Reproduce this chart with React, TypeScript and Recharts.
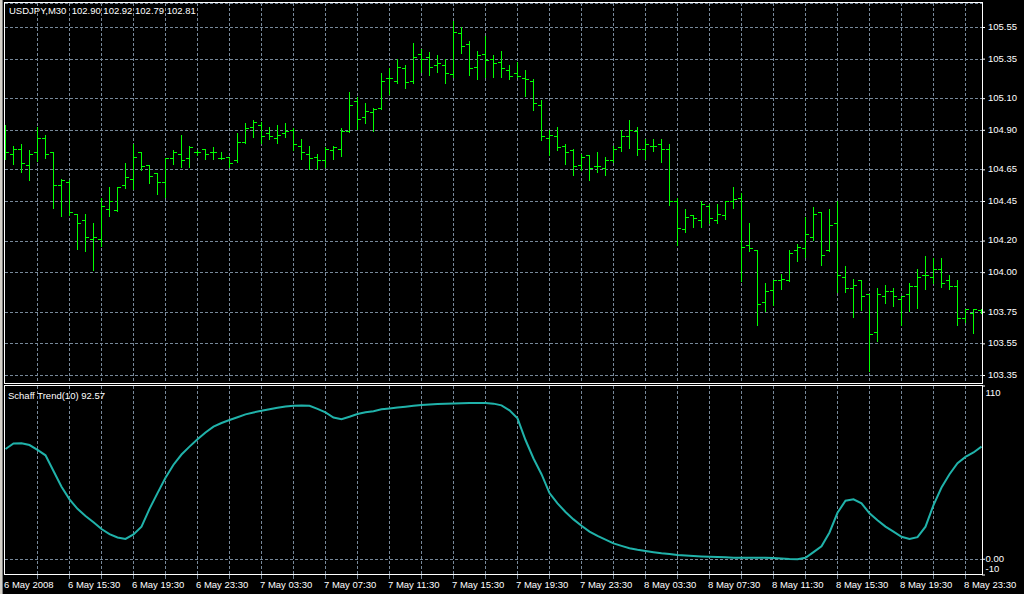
import React from 'react';
import {
  ComposedChart,
  Bar,
  Line,
  XAxis,
  YAxis,
  CartesianGrid,
} from 'recharts';

// USDJPY M30, 6 May 11:30 .. 9 May 00:30 (one value per bar)
const opens = [
  104.84, 104.75, 104.78, 104.68, 104.76, 104.85, 104.76, 104.55, 104.57, 104.37,
  104.33, 104.21, 104.21, 104.40, 104.39, 104.55, 104.59, 104.76, 104.68, 104.63,
  104.57, 104.72, 104.75, 104.72, 104.76, 104.78, 104.76, 104.72, 104.73, 104.71,
  104.82, 104.92, 104.93, 104.88, 104.85, 104.88, 104.90, 104.80, 104.75, 104.73,
  104.71, 104.77, 104.78, 104.89, 105.08, 104.98, 105.01, 105.04, 105.23, 105.21,
  105.29, 105.21, 105.38, 105.36, 105.31, 105.31, 105.25, 105.51, 105.44, 105.30,
  105.38, 105.35, 105.33, 105.28, 105.26, 105.23, 105.21, 105.06, 104.85, 104.86,
  104.80, 104.77, 104.68, 104.74, 104.67, 104.66, 104.71, 104.79, 104.86, 104.89,
  104.78, 104.80, 104.81, 104.78, 104.45, 104.27, 104.36, 104.33, 104.42, 104.33,
  104.36, 104.45, 104.47, 104.17, 104.14, 103.81, 103.89, 103.95, 103.95, 104.14,
  104.15, 104.22, 104.38, 104.14, 104.31, 103.97, 103.90, 103.95, 103.86, 103.62,
  103.85, 103.88, 103.83, 103.86, 103.91, 103.98, 103.97, 104.02, 103.95, 103.91,
  103.71, 103.74, 103.76,
];

const highs = [
  104.93, 104.80, 104.81, 104.77, 104.92, 104.87, 104.76, 104.59, 104.58, 104.37,
  104.37, 104.31, 104.47, 104.54, 104.54, 104.69, 104.81, 104.76, 104.68, 104.63,
  104.72, 104.77, 104.87, 104.80, 104.77, 104.78, 104.79, 104.76, 104.73, 104.88,
  104.94, 104.96, 104.95, 104.92, 104.93, 104.94, 104.91, 104.84, 104.80, 104.75,
  104.79, 104.80, 104.91, 105.14, 105.11, 105.07, 105.04, 105.26, 105.29, 105.35,
  105.31, 105.45, 105.41, 105.39, 105.37, 105.35, 105.59, 105.55, 105.46, 105.40,
  105.49, 105.37, 105.40, 105.31, 105.33, 105.28, 105.22, 105.09, 104.90, 104.92,
  104.81, 104.78, 104.75, 104.74, 104.76, 104.73, 104.80, 104.90, 104.96, 104.92,
  104.84, 104.84, 104.84, 104.81, 104.47, 104.40, 104.36, 104.45, 104.43, 104.43,
  104.45, 104.54, 104.50, 104.31, 104.14, 103.93, 103.95, 103.99, 104.14, 104.18,
  104.35, 104.41, 104.38, 104.40, 104.45, 104.04, 103.96, 103.95, 103.86, 103.90,
  103.92, 103.90, 103.85, 103.93, 104.02, 104.10, 104.09, 104.09, 103.98, 103.95,
  103.77, 103.77, 103.77,
];

const lows = [
  104.72, 104.69, 104.64, 104.59, 104.71, 104.73, 104.41, 104.36, 104.37, 104.15,
  104.14, 104.02, 104.17, 104.36, 104.39, 104.54, 104.53, 104.65, 104.57, 104.50,
  104.48, 104.69, 104.67, 104.67, 104.75, 104.72, 104.72, 104.72, 104.67, 104.70,
  104.82, 104.86, 104.82, 104.85, 104.82, 104.86, 104.78, 104.72, 104.66, 104.66,
  104.67, 104.72, 104.74, 104.89, 104.91, 104.95, 104.90, 105.04, 105.13, 105.20,
  105.17, 105.20, 105.27, 105.25, 105.27, 105.20, 105.24, 105.39, 105.25, 105.23,
  105.24, 105.24, 105.24, 105.23, 105.24, 105.12, 105.03, 104.84, 104.75, 104.78,
  104.69, 104.62, 104.65, 104.59, 104.64, 104.62, 104.70, 104.77, 104.79, 104.75,
  104.72, 104.77, 104.70, 104.43, 104.18, 104.26, 104.29, 104.29, 104.32, 104.32,
  104.34, 104.41, 103.95, 104.14, 103.67, 103.76, 103.80, 103.90, 103.95, 104.08,
  104.10, 104.21, 104.05, 104.14, 103.88, 103.88, 103.72, 103.77, 103.38, 103.57,
  103.81, 103.79, 103.67, 103.76, 103.78, 103.90, 103.94, 103.91, 103.90, 103.67,
  103.69, 103.62, 103.75,
];

const closes = [
  104.76, 104.78, 104.69, 104.75, 104.85, 104.75, 104.55, 104.58, 104.38, 104.31,
  104.22, 104.22, 104.42, 104.45, 104.54, 104.60, 104.73, 104.67, 104.61, 104.57,
  104.72, 104.76, 104.71, 104.79, 104.76, 104.75, 104.76, 104.72, 104.69, 104.82,
  104.91, 104.95, 104.86, 104.86, 104.87, 104.89, 104.81, 104.76, 104.72, 104.71,
  104.78, 104.79, 104.89, 105.06, 104.97, 105.02, 105.03, 105.21, 105.23, 105.30,
  105.20, 105.36, 105.35, 105.30, 105.32, 105.26, 105.52, 105.43, 105.29, 105.37,
  105.34, 105.32, 105.29, 105.24, 105.24, 105.22, 105.07, 104.86, 104.87, 104.79,
  104.76, 104.67, 104.73, 104.66, 104.67, 104.71, 104.78, 104.86, 104.90, 104.78,
  104.81, 104.80, 104.78, 104.45, 104.28, 104.35, 104.34, 104.43, 104.34, 104.37,
  104.45, 104.46, 104.16, 104.15, 103.80, 103.88, 103.95, 103.96, 104.12, 104.16,
  104.24, 104.37, 104.11, 104.30, 103.98, 103.90, 103.92, 103.85, 103.61, 103.86,
  103.88, 103.85, 103.85, 103.91, 103.97, 103.98, 104.02, 103.93, 103.91, 103.71,
  103.77, 103.77, 103.76,
];

const schaff = [
  70, 73.5, 73.6, 72.5, 69.4, 66, 56, 46, 38, 32,
  27.5, 23.5, 19.2, 16, 13.8, 12.9, 15.8, 20.7, 32, 42,
  51.8, 60, 66.5, 71.5, 76.2, 80.5, 84.2, 86.5, 88.4, 90.2,
  92, 93.2, 94.3, 95.3, 96.2, 97, 97.5, 97.6, 97.4, 95.5,
  93.2, 90, 88.9, 90.5, 92.2, 93.3, 94, 95.2, 95.7, 96.3,
  96.8, 97.4, 97.9, 98.2, 98.5, 98.7, 98.9, 99.1, 99.2, 99.2,
  99.2, 98.8, 97.7, 94.5, 89.5, 75.7, 64, 54, 42, 35.5,
  30, 25.3, 21.3, 17.6, 14.8, 12.5, 10.1, 8.5, 7, 6,
  5.2, 4.5, 3.8, 3.3, 2.7, 2.4, 2.1, 1.8, 1.6, 1.4,
  1.2, 1, 0.9, 0.9, 0.9, 0.9, 0.8, 0.4, 0.1, 0,
  0.9, 4.5, 8.2, 17, 29.5, 37.2, 38.1, 35.5, 29.2, 24.8,
  20.7, 17.5, 14.3, 12.9, 14, 20.7, 34.4, 45.5, 54, 61,
  65, 67.8, 71.5,
];

const priceTicks = [105.55, 105.35, 105.1, 104.9, 104.65, 104.45, 104.2, 104.0, 103.75, 103.55, 103.35];
const oscTicks = [110, 0, -10];
const oscTickLabels = ['110', '0.00', '-10'];
const gridBars = [4, 8, 12, 16, 20, 24, 28, 32, 36, 40, 44, 48, 52, 56, 60, 64, 68, 72, 76, 80, 84, 88, 92, 96, 100, 104, 108, 112, 116, 120];
const timeTickBars = [0, 4, 8, 12, 16, 20, 24, 28, 32, 36, 40, 44, 48, 52, 56, 60, 64, 68, 72, 76, 80, 84, 88, 92, 96, 100, 104, 108, 112, 116, 120];
const labelBars = [0, 8, 16, 24, 32, 40, 48, 56, 64, 72, 80, 88, 96, 104, 112, 120];
const timeLabels = [
  '6 May 2008', '6 May 15:30', '6 May 19:30', '6 May 23:30',
  '7 May 03:30', '7 May 07:30', '7 May 11:30', '7 May 15:30',
  '7 May 19:30', '7 May 23:30', '8 May 03:30', '8 May 07:30',
  '8 May 11:30', '8 May 15:30', '8 May 19:30', '8 May 23:30',
];

const bars = opens.map((open, i) => ({
  idx: i,
  open,
  high: highs[i],
  low: lows[i],
  close: closes[i],
  stc: schaff[i],
}));

const FONT = '"Liberation Sans", Arial, sans-serif';
const GRID = '#778899';
const BAR = '#00ff00';
const STC = '#20b2aa';
const X_DOMAIN: [number, number] = [-0.0625, 122.0625];

function OhlcBar(props: any) {
  const { x, y, width, height, payload } = props;
  if (payload == null) return null;
  const cx = Math.floor(x + width / 2) + 0.5;
  const top = Math.min(y, y + height);
  const bottom = Math.max(y, y + height);
  const span = payload.high - payload.low;
  const at = (v: number) => (span > 0 ? top + ((payload.high - v) / span) * (bottom - top) : top);
  const yo = Math.floor(at(payload.open)) + 0.5;
  const yc = Math.floor(at(payload.close)) + 0.5;
  return (
    <g shapeRendering="crispEdges">
      <line x1={cx} x2={cx} y1={Math.floor(top)} y2={Math.ceil(bottom) + 1} stroke={BAR} />
      <line x1={cx - 3.5} x2={cx + 0.5} y1={yo} y2={yo} stroke={BAR} />
      <line x1={cx - 0.5} x2={cx + 3.5} y1={yc} y2={yc} stroke={BAR} />
    </g>
  );
}

function PriceTick(props: any) {
  const { x, y, payload } = props;
  return (
    <text x={x} y={y - 1} dy="0.36em" fill="#fff" fontSize={9.5} fontFamily={FONT} textAnchor="start">
      {Number(payload.value).toFixed(2)}
    </text>
  );
}

function OscTick(props: any) {
  const { x, y, payload } = props;
  const i = oscTicks.indexOf(payload.value);
  const shift = payload.value === 110 ? 7 : payload.value === -10 ? -6.5 : -1;
  return (
    <text x={x - 2.5} y={y + shift} dy="0.36em" fill="#fff" fontSize={9.5} fontFamily={FONT} textAnchor="start">
      {oscTickLabels[i]}
    </text>
  );
}

function TimeTick(props: any) {
  const { x, y, payload } = props;
  const li = labelBars.indexOf(payload.value);
  const px = Math.floor(x) + 0.5;
  return (
    <g>
      {payload.value !== 0 && (
        <line x1={px} x2={px} y1={y} y2={y + 4} stroke={GRID} shapeRendering="crispEdges" />
      )}
      {li >= 0 && (
        <text x={x - 1.5} y={y + 12.5} fill="#fff" fontSize={9.5} fontFamily={FONT} textAnchor="start">
          {timeLabels[li]}
        </text>
      )}
    </g>
  );
}

export default function App() {
  return (
    <div style={{ position: 'relative', width: 1024, height: 594, background: '#000', overflow: 'hidden' }}>
      <style>{'body{margin:0;background:#000;}'}</style>

      <div style={{ position: 'absolute', left: 0, top: 0 }}>
        <ComposedChart width={1024} height={384} data={bars} margin={{ top: 3, right: 0, left: 5, bottom: 1 }}>
          <CartesianGrid
            stroke={GRID}
            strokeDasharray="3 2"
            verticalValues={gridBars}
            shapeRendering="crispEdges"
          />
          <XAxis dataKey="idx" type="number" domain={X_DOMAIN} allowDataOverflow hide ticks={gridBars} />
          <YAxis
            orientation="right"
            width={42}
            type="number"
            domain={[103.3026, 105.7049]}
            allowDataOverflow
            ticks={priceTicks}
            interval={0}
            axisLine={false}
            tickLine={{ stroke: '#fff' }}
            tickSize={3}
            tickMargin={3}
            tick={<PriceTick />}
          />
          <Bar
            dataKey={(d: any) => [d.low, d.high]}
            barSize={6}
            shape={<OhlcBar />}
            isAnimationActive={false}
          />
        </ComposedChart>
      </div>

      <div style={{ position: 'absolute', left: 0, top: 380 }}>
        <ComposedChart width={1024} height={214} data={bars} margin={{ top: 6, right: 0, left: 5, bottom: 0 }}>
          <CartesianGrid
            stroke={GRID}
            strokeDasharray="3 2"
            verticalValues={gridBars}
            horizontalValues={[0]}
            shapeRendering="crispEdges"
          />
          <XAxis
            dataKey="idx"
            type="number"
            domain={X_DOMAIN}
            allowDataOverflow
            ticks={timeTickBars}
            interval={0}
            height={19}
            axisLine={false}
            tickLine={false}
            tickSize={0}
            tickMargin={0}
            tick={<TimeTick />}
          />
          <YAxis
            orientation="right"
            width={42}
            type="number"
            domain={[-10, 110]}
            allowDataOverflow
            ticks={oscTicks}
            interval={0}
            axisLine={false}
            tickLine={{ stroke: '#fff' }}
            tickSize={3}
            tickMargin={3}
            tick={<OscTick />}
          />
          <Line
            dataKey="stc"
            type="linear"
            stroke={STC}
            strokeWidth={2}
            dot={false}
            activeDot={false}
            isAnimationActive={false}
          />
        </ComposedChart>
      </div>

      <svg
        width={1024}
        height={594}
        style={{ position: 'absolute', left: 0, top: 0, pointerEvents: 'none' }}
      >
        <rect x={0} y={0} width={2} height={594} fill="#d4d0c8" />
        <rect x={2} y={0} width={1} height={594} fill="#808080" />
        <rect x={4.5} y={2.5} width={978} height={381} fill="none" stroke="#fff" shapeRendering="crispEdges" />
        <rect x={4.5} y={385.5} width={978} height={189} fill="none" stroke="#fff" shapeRendering="crispEdges" />
        <text x={9} y={14} fill="#fff" fontSize={9.5} fontFamily={FONT} style={{ whiteSpace: 'pre' }}>
          USDJPY,M30  102.90 102.92 102.79 102.81
        </text>
        <text x={8} y={399} fill="#fff" fontSize={9.5} fontFamily={FONT}>
          Schaff Trend(10) 92.57
        </text>
      </svg>
    </div>
  );
}
